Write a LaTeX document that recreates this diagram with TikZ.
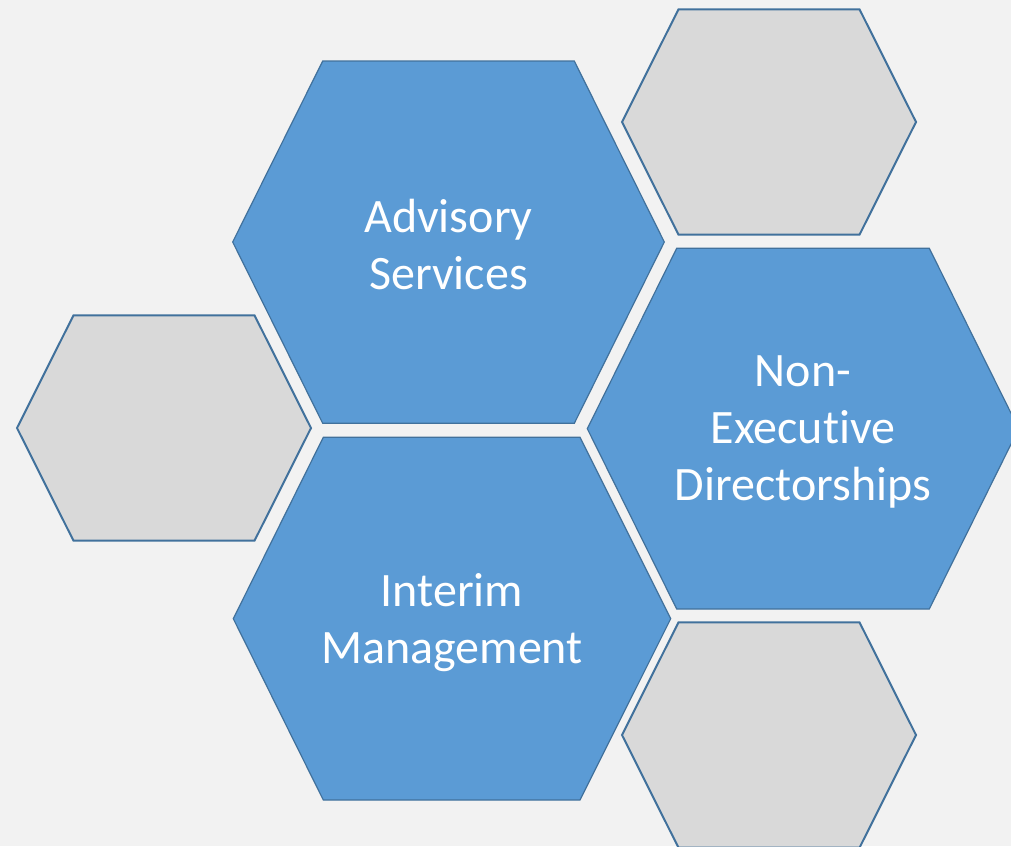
\documentclass[tikz,border=0pt]{standalone}
\usepackage{fontspec}
\setmainfont{Carlito}[Ligatures=NoCommon]
\usepackage{tikz}
\usetikzlibrary{positioning}

\definecolor{hexblue}{HTML}{5B9BD5}
\definecolor{hexedge}{HTML}{41719C}
\definecolor{hexgrey}{HTML}{D9D9D9}
\definecolor{backgr}{HTML}{F2F2F2}

\tikzset{
	bluehex/.style={fill=hexblue, draw=hexedge, line width=1.2pt},
	greyhex/.style={fill=hexgrey, draw=hexedge, line width=2pt},
	hextext/.style={text=white, align=center, inner sep=0pt,
		font=\fontsize{48}{57}\selectfont},
}

\begin{document}
\begin{tikzpicture}[x=1pt, y=-1pt]
	
	\fill[backgr] (0,0) rectangle (1011,846);
	\useasboundingbox (0,0) rectangle (1011,846);
	\clip (0,0) rectangle (1011,846);
	
	% grey hexagons
	\foreach \cx/\cy in {769/122, 164/428, 769/735}
	\draw[greyhex] (\cx-147,\cy) -- (\cx-90.5,\cy-112.7) -- (\cx+90.5,\cy-112.7)
	-- (\cx+147,\cy) -- (\cx+90.5,\cy+112.7) -- (\cx-90.5,\cy+112.7) -- cycle;
	
	% blue hexagons
	\draw[bluehex] (232.7,242) -- (322.7,61) -- (574.3,61) -- (664.3,242)
	-- (574.3,423.3) -- (322.7,423.3) -- cycle;
	\draw[bluehex] (587.3,428.7) -- (676.7,248.3) -- (929.3,248.3) -- (1018.7,428.7)
	-- (929.3,609) -- (676.7,609) -- cycle;
	\draw[bluehex] (233.3,618.7) -- (323.3,437.3) -- (580,437.3) -- (670.7,618.7)
	-- (580,800) -- (323.3,800) -- cycle;
	
	\node[hextext] (advisory) at (448.5,245) {Advisory\\Services};
	\node[hextext] (nonexec) at (803,432) {Non-\\Executive\\Directorships};
	\node[hextext] (interim) at (452,623) {Interim\\Management};
	
\end{tikzpicture}
\end{document}
